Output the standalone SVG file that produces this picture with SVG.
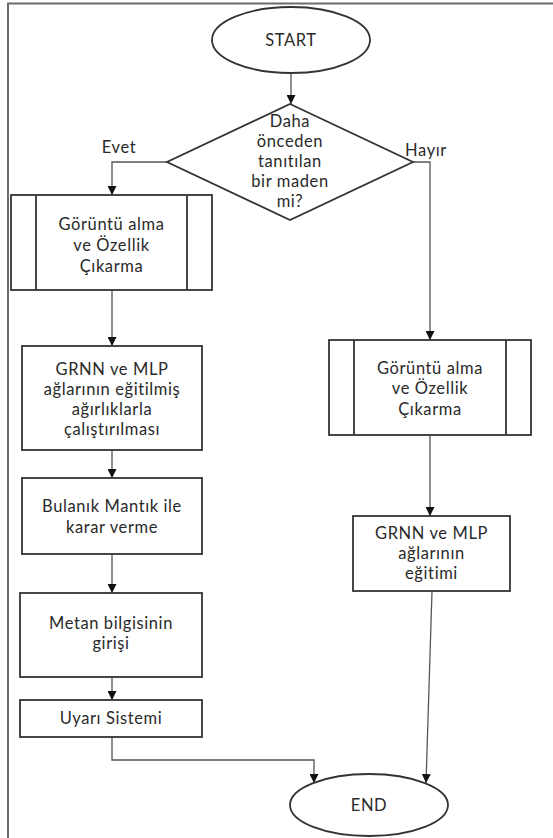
<svg xmlns="http://www.w3.org/2000/svg" width="553" height="838" viewBox="0 0 553 838">
<defs>
<marker id="ah" viewBox="0 0 10 10" refX="10" refY="5" markerWidth="9" markerHeight="9" markerUnits="userSpaceOnUse" orient="auto">
<path d="M0,0 L10,5 L0,10 z" fill="#111"/>
</marker>
</defs>
<style>
.s{fill:#fff;stroke:#333;stroke-width:1.8}
.t{font-family:Lato,"Open Sans",sans-serif;font-size:16.5px;letter-spacing:0.6px;fill:#2a2a2a;text-anchor:middle}
.c{fill:none;stroke:#555;stroke-width:1.3;marker-end:url(#ah)}
</style>
<rect width="553" height="838" fill="#fff"/>
<rect x="8" y="3.5" width="620" height="900" fill="none" stroke="#6b6b6b" stroke-width="2"/>
<g id="connectors">
<path class="c" d="M291,73 L291,104"/>
<path class="c" d="M167,162 L112,162 L112,195"/>
<path class="c" d="M413,162 L430,162 L430,340"/>
<path class="c" d="M112,290 L112,346"/>
<path class="c" d="M112,450 L112,478"/>
<path class="c" d="M112,554 L112,593"/>
<path class="c" d="M112,677 L112,700"/>
<path class="c" d="M112,737 L112,760 L314,760 L314,783"/>
<path class="c" d="M430,435 L430,516"/>
<path class="c" d="M432,591 L426,783"/>
<text class="t" x="119" y="153">Evet</text>
<text class="t" x="426" y="156">Hayır</text>
</g>
<g id="start">
<ellipse class="s" cx="291" cy="40" rx="79" ry="33"/>
<text class="t" x="291" y="46">START</text>
</g>
<g id="decision">
<polygon class="s" points="290,104 413,162 290,220 167,162"/>
<text class="t" x="290" y="127">Daha</text>
<text class="t" x="290" y="147">önceden</text>
<text class="t" x="290" y="167">tanıtılan</text>
<text class="t" x="290" y="187">bir maden</text>
<text class="t" x="290" y="207">mi?</text>
</g>
<g id="feat-left">
<rect class="s" x="11" y="195" width="201" height="95"/>
<line class="s" x1="36" y1="195" x2="36" y2="290"/>
<line class="s" x1="187" y1="195" x2="187" y2="290"/>
<text class="t" x="111.5" y="230">Görüntü alma</text>
<text class="t" x="111.5" y="251">ve Özellik</text>
<text class="t" x="111.5" y="272">Çıkarma</text>
</g>
<g id="run-nets">
<rect class="s" x="22" y="346" width="180" height="104"/>
<text class="t" x="112" y="375">GRNN ve MLP</text>
<text class="t" x="112" y="395">ağlarının eğitilmiş</text>
<text class="t" x="112" y="415">ağırlıklarla</text>
<text class="t" x="112" y="435">çalıştırılması</text>
</g>
<g id="fuzzy">
<rect class="s" x="22" y="478" width="180" height="76"/>
<text class="t" x="112" y="512">Bulanık Mantık ile</text>
<text class="t" x="112" y="533">karar verme</text>
</g>
<g id="methane">
<rect class="s" x="20" y="593" width="182" height="84"/>
<text class="t" x="111" y="629">Metan bilgisinin</text>
<text class="t" x="111" y="649">girişi</text>
</g>
<g id="warning">
<rect class="s" x="20" y="700" width="182" height="37"/>
<text class="t" x="111" y="724">Uyarı Sistemi</text>
</g>
<g id="feat-right">
<rect class="s" x="329" y="340" width="202" height="95"/>
<line class="s" x1="354" y1="340" x2="354" y2="435"/>
<line class="s" x1="506" y1="340" x2="506" y2="435"/>
<text class="t" x="430" y="374">Görüntü alma</text>
<text class="t" x="430" y="394">ve Özellik</text>
<text class="t" x="430" y="415">Çıkarma</text>
</g>
<g id="train-nets">
<rect class="s" x="353" y="516" width="157" height="75"/>
<text class="t" x="431.5" y="539">GRNN ve MLP</text>
<text class="t" x="431.5" y="559">ağlarının</text>
<text class="t" x="431.5" y="579">eğitimi</text>
</g>
<g id="end">
<ellipse class="s" cx="369" cy="805" rx="79" ry="31"/>
<text class="t" x="369" y="811">END</text>
</g>
</svg>
